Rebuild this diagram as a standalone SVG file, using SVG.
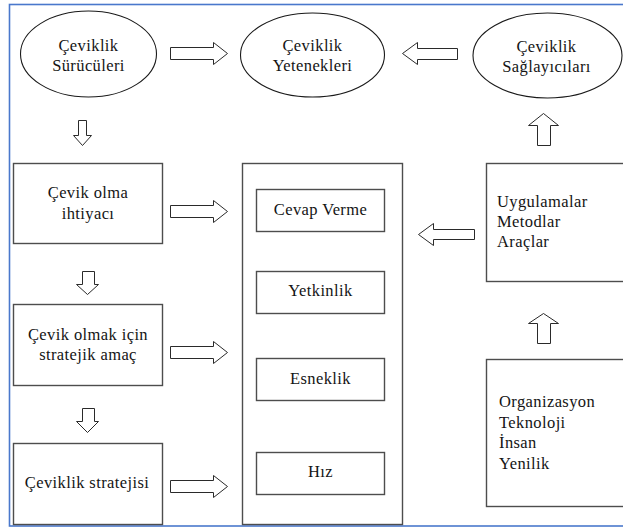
<svg xmlns="http://www.w3.org/2000/svg" width="623" height="528" viewBox="0 0 623 528">
  <defs>
    <style>
      .frame { fill: none; stroke: #4a78cc; stroke-width: 1.6; }
      .oval { fill: #ffffff; stroke: #1a1a1a; stroke-width: 1.1; }
      .box { fill: #ffffff; stroke: #4d4d4d; stroke-width: 1.4; }
      .arrow { fill: #ffffff; stroke: #2a2a2a; stroke-width: 1; stroke-linejoin: miter; }
      text { font-family: "Liberation Serif", "Times New Roman", serif; font-size: 16.5px; letter-spacing: 0.4px; fill: #141414; }
      .c { text-anchor: middle; }
    </style>
  </defs>

  <rect width="623" height="528" fill="#ffffff"/>
  <!-- outer frame, running off the right edge -->
  <rect class="frame" x="9.5" y="4.5" width="625" height="521.5"/>

  <!-- top row: ovals -->
  <g id="suruculer">
    <ellipse class="oval" cx="88.5" cy="54" rx="68" ry="43"/>
    <text class="c" x="88.5" y="51">Çeviklik</text>
    <text class="c" x="88.5" y="71">Sürücüleri</text>
  </g>
  <g id="yetenekler">
    <ellipse class="oval" cx="312.5" cy="55" rx="72" ry="42"/>
    <text class="c" x="312.5" y="51">Çeviklik</text>
    <text class="c" x="312.5" y="71">Yetenekleri</text>
  </g>
  <g id="saglayicilar">
    <ellipse class="oval" cx="547.5" cy="55.5" rx="74.5" ry="42.5"/>
    <text class="c" x="546.5" y="52">Çeviklik</text>
    <text class="c" x="546.5" y="72">Sağlayıcıları</text>
  </g>

  <!-- left column -->
  <g id="ihtiyac">
    <rect class="box" x="13.5" y="163.5" width="149" height="80"/>
    <text class="c" x="88" y="198">Çevik olma</text>
    <text class="c" x="88" y="219">ihtiyacı</text>
  </g>
  <g id="amac">
    <rect class="box" x="13.5" y="304.5" width="149" height="81"/>
    <text class="c" x="88" y="340">Çevik olmak için</text>
    <text class="c" x="88" y="360">stratejik amaç</text>
  </g>
  <g id="strateji">
    <rect class="box" x="13.5" y="443.5" width="149" height="81"/>
    <text class="c" x="87" y="488">Çeviklik stratejisi</text>
  </g>

  <!-- middle column -->
  <g id="yetenek-listesi">
    <rect class="box" x="242.5" y="163.5" width="160" height="361"/>
  </g>
  <g id="cevap-verme">
    <rect class="box" x="256.5" y="189.5" width="128" height="42"/>
    <text class="c" x="320.5" y="215">Cevap Verme</text>
  </g>
  <g id="yetkinlik">
    <rect class="box" x="256.5" y="271.5" width="128" height="42"/>
    <text class="c" x="320.5" y="296">Yetkinlik</text>
  </g>
  <g id="esneklik">
    <rect class="box" x="256.5" y="358.5" width="128" height="42"/>
    <text class="c" x="320.5" y="384">Esneklik</text>
  </g>
  <g id="hiz">
    <rect class="box" x="256.5" y="452.5" width="128" height="42"/>
    <text class="c" x="320.5" y="477">Hız</text>
  </g>

  <!-- right column -->
  <g id="uygulamalar">
    <rect class="box" x="486.5" y="163.5" width="145" height="118"/>
    <text x="497" y="207">Uygulamalar</text>
    <text x="497" y="227">Metodlar</text>
    <text x="497" y="247">Araçlar</text>
  </g>
  <g id="kaynaklar">
    <rect class="box" x="486.5" y="359.5" width="145" height="147"/>
    <text x="499" y="407">Organizasyon</text>
    <text x="499" y="428">Teknoloji</text>
    <text x="499" y="448">İnsan</text>
    <text x="499" y="469">Yenilik</text>
  </g>

  <!-- block arrows -->
  <g id="connectors">
    <!-- rightward -->
    <polygon class="arrow" points="170.5,47.5 213.5,47.5 213.5,42.5 227.5,53.5 213.5,64.5 213.5,59.5 170.5,59.5"/>
    <polygon class="arrow" points="170.5,205.5 213.5,205.5 213.5,200.5 227.5,211.5 213.5,222.5 213.5,217.5 170.5,217.5"/>
    <polygon class="arrow" points="170.5,346.5 213.5,346.5 213.5,341.5 227.5,352.5 213.5,363.5 213.5,358.5 170.5,358.5"/>
    <polygon class="arrow" points="170.5,480.5 213.5,480.5 213.5,475.5 227.5,486.5 213.5,497.5 213.5,492.5 170.5,492.5"/>
    <!-- leftward -->
    <polygon class="arrow" points="457.5,48.5 417.5,48.5 417.5,42.5 402.5,53.5 417.5,64.5 417.5,59.5 457.5,59.5"/>
    <polygon class="arrow" points="474.5,229.5 433.5,229.5 433.5,223.5 418.5,234.5 433.5,245.5 433.5,239.5 474.5,239.5"/>
    <!-- downward -->
    <polygon class="arrow" points="78.5,120.5 86.5,120.5 86.5,135.5 91.5,135.5 82.5,145.5 73.5,135.5 78.5,135.5"/>
    <polygon class="arrow" points="82.5,271.5 94.5,271.5 94.5,284.5 98.5,284.5 87.5,294.5 76.5,284.5 82.5,284.5"/>
    <polygon class="arrow" points="82.5,408.5 94.5,408.5 94.5,421.5 98.5,421.5 87.5,432.5 76.5,421.5 82.5,421.5"/>
    <!-- upward -->
    <polygon class="arrow" points="537.5,145.5 550.5,145.5 550.5,125.5 558.5,125.5 543.5,113.5 528.5,125.5 537.5,125.5"/>
    <polygon class="arrow" points="537.5,343.5 550.5,343.5 550.5,323.5 558.5,323.5 543.5,313.5 528.5,323.5 537.5,323.5"/>
  </g>
</svg>
